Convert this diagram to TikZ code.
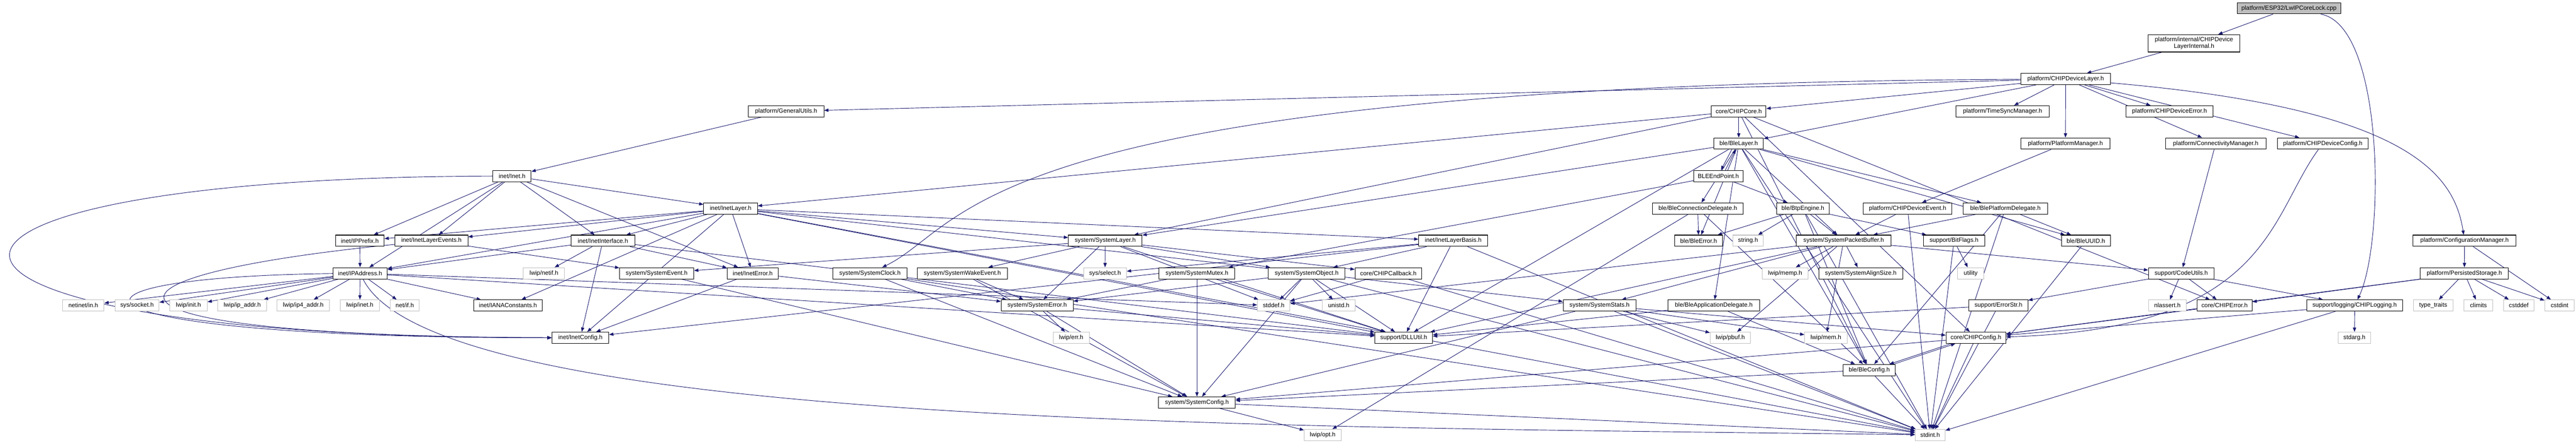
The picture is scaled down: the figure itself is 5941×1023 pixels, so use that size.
\documentclass[tikz,border=0pt]{standalone}
\usepackage{fontspec}
\setmainfont{Liberation Sans}
\usetikzlibrary{arrows.meta}
\definecolor{edgeblue}{HTML}{191970}
\definecolor{extgray}{HTML}{BFBFBF}
\pgfdeclarelayer{bg}
\pgfsetlayers{bg,main}
\begin{document}
\begin{tikzpicture}[x=1pt,y=-1pt,
  filenode/.style={draw=black, fill=white, line width=1.2pt, minimum height=26pt, inner sep=0pt, font=\fontsize{14}{16}\selectfont, text=black},
  extnode/.style={filenode, draw=extgray},
  dep/.style={draw=edgeblue, line width=1.1pt, -{Triangle[length=10pt,width=7.5pt]}}]
\useasboundingbox (0,0) rectangle (5941,1023);
% row 0-2
\node[filenode, fill=extgray, minimum width=238pt] (lwipcl) at (5279,19) {platform/ESP32/LwIPCoreLock.cpp};
\node[filenode, minimum width=212pt, minimum height=40pt, align=center] (dli) at (5060,100) {platform/internal/CHIPDevice\\LayerInternal.h};
\node[filenode, minimum width=206pt] (dl) at (4764,182.5) {platform/CHIPDeviceLayer.h};
% row 3
\node[filenode, minimum width=174pt] (gu) at (1813,257) {platform/GeneralUtils.h};
\node[filenode, minimum width=126pt] (core) at (4010,257) {core/CHIPCore.h};
\node[filenode, minimum width=215pt] (tsm) at (4618.5,257) {platform/TimeSyncManager.h};
\node[filenode, minimum width=201pt] (dde) at (5003.5,257) {platform/CHIPDeviceError.h};
% row 4
\node[filenode, minimum width=114pt] (blelayer) at (4010,331.5) {ble/BleLayer.h};
\node[filenode, minimum width=205pt] (pm) at (4763.5,331.5) {platform/PlatformManager.h};
\node[filenode, minimum width=232pt] (cm) at (5110,331.5) {platform/ConnectivityManager.h};
\node[filenode, minimum width=210pt] (dcfg) at (5357,331.5) {platform/CHIPDeviceConfig.h};
% row 5
\node[filenode, minimum width=88pt] (inet) at (1181,406.5) {inet/Inet.h};
\node[filenode, minimum width=114pt] (bep) at (3963,406.5) {BLEEndPoint.h};
% row 6
\node[filenode, minimum width=124pt] (il) at (1685,481.5) {inet/InetLayer.h};
\node[filenode, minimum width=209pt] (bcd) at (3915.5,481.5) {ble/BleConnectionDelegate.h};
\node[filenode, minimum width=122pt] (btp) at (4158,481.5) {ble/BtpEngine.h};
\node[filenode, minimum width=205pt] (dev) at (4399.5,481.5) {platform/CHIPDeviceEvent.h};
\node[filenode, minimum width=194pt] (bpd) at (4625,481.5) {ble/BlePlatformDelegate.h};
% row 7
\node[filenode, minimum width=112pt] (ipp) at (830,556) {inet/IPPrefix.h};
\node[filenode, minimum width=168pt] (ile) at (995,556) {inet/InetLayerEvents.h};
\node[filenode, minimum width=147pt] (iif) at (1390.5,556) {inet/InetInterface.h};
\node[filenode, minimum width=170pt] (sl) at (2549,556) {system/SystemLayer.h};
\node[filenode, minimum width=159pt] (ilb) at (3351.5,556) {inet/InetLayerBasis.h};
\node[filenode, minimum width=111pt] (berr) at (3917.5,556) {ble/BleError.h};
\node[extnode, minimum width=71pt] (strh) at (4031.5,556) {string.h};
\node[filenode, minimum width=218pt] (spb) at (4252,556) {system/SystemPacketBuffer.h};
\node[filenode, minimum width=141pt] (bf) at (4506.5,556) {support/BitFlags.h};
\node[filenode, minimum width=113pt] (buuid) at (4810.5,556) {ble/BleUUID.h};
\node[filenode, minimum width=238pt] (cfgm) at (5684,556) {platform/ConfigurationManager.h};
% row 8
\node[filenode, minimum width=125pt] (ipa) at (830.5,631) {inet/IPAddress.h};
\node[extnode, minimum width=95pt] (netif) at (1254.5,631) {lwip/netif.h};
\node[filenode, minimum width=171pt] (sev) at (1514.5,631) {system/SystemEvent.h};
\node[filenode, minimum width=118pt] (ierr) at (1736,631) {inet/InetError.h};
\node[filenode, minimum width=171pt] (sclk) at (2006.5,631) {system/SystemClock.h};
\node[filenode, minimum width=207pt] (swe) at (2219.5,631) {system/SystemWakeEvent.h};
\node[extnode, minimum width=99pt] (sel) at (2548.5,631) {sys/select.h};
\node[filenode, minimum width=175pt] (smx) at (2760.5,631) {system/SystemMutex.h};
\node[filenode, minimum width=177pt] (sobj) at (3013.5,631) {system/SystemObject.h};
\node[filenode, minimum width=154pt] (cb) at (3202,631) {core/CHIPCallback.h};
\node[extnode, minimum width=106pt] (memp) at (4117,631) {lwip/memp.h};
\node[filenode, minimum width=193pt] (sas) at (4291.5,631) {system/SystemAlignSize.h};
\node[extnode, minimum width=60pt] (util) at (4545,631) {utility};
\node[filenode, minimum width=151pt] (cu) at (5030.5,631) {support/CodeUtils.h};
\node[filenode, minimum width=203pt] (ps) at (5683.5,631) {platform/PersistedStorage.h};
% row 9
\node[extnode, minimum width=96pt] (nin) at (192,705.5) {netinet/in.h};
\node[extnode, minimum width=102pt] (ssock) at (316,705.5) {sys/socket.h};
\node[extnode, minimum width=87pt] (linit) at (434.5,705.5) {lwip/init.h};
\node[extnode, minimum width=113pt] (lipa) at (558.5,705.5) {lwip/ip\_addr.h};
\node[extnode, minimum width=121pt] (lip4) at (699.5,705.5) {lwip/ip4\_addr.h};
\node[extnode, minimum width=90pt] (linet) at (830,705.5) {lwip/inet.h};
\node[extnode, minimum width=67pt] (nif) at (933.5,705.5) {net/if.h};
\node[filenode, minimum width=159pt] (iana) at (1171.5,705.5) {inet/IANAConstants.h};
\node[filenode, minimum width=166pt] (serr) at (2392,705.5) {system/SystemError.h};
\node[extnode, minimum width=75pt] (stddef) at (2937.5,705.5) {stddef.h};
\node[extnode, minimum width=75pt] (unistd) at (3087.5,705.5) {unistd.h};
\node[filenode, minimum width=168pt] (sst) at (3689,705.5) {system/SystemStats.h};
\node[filenode, minimum width=211pt] (bad) at (3952.5,705.5) {ble/BleApplicationDelegate.h};
\node[filenode, minimum width=136pt] (estr) at (4609,705.5) {support/ErrorStr.h};
\node[extnode, minimum width=87pt] (nla) at (4998.5,705.5) {nlassert.h};
\node[filenode, minimum width=127pt] (cerr) at (5130.5,705.5) {core/CHIPError.h};
\node[filenode, minimum width=221pt] (clog) at (5430.5,705.5) {support/logging/CHIPLogging.h};
\node[extnode, minimum width=91pt] (tt) at (5611.5,705.5) {type\_traits};
\node[extnode, minimum width=66pt] (clim) at (5716,705.5) {climits};
\node[extnode, minimum width=70pt] (cstddef) at (5809,705.5) {cstddef};
\node[extnode, minimum width=68pt] (cstdint) at (5903,705.5) {cstdint};
% row 10
\node[filenode, minimum width=131pt] (icfg) at (1338.5,780) {inet/InetConfig.h};
\node[extnode, minimum width=83pt] (lerr) at (2470.5,780) {lwip/err.h};
\node[filenode, minimum width=133pt] (dll) at (3237.5,780) {support/DLLUtil.h};
\node[extnode, minimum width=93pt] (pbuf) at (3990.5,780) {lwip/pbuf.h};
\node[extnode, minimum width=98pt] (lmem) at (4211,780) {lwip/mem.h};
\node[filenode, minimum width=138pt] (ccfg) at (4557,780) {core/CHIPConfig.h};
\node[extnode, minimum width=74pt] (starg) at (5430,780) {stdarg.h};
% rows 11-13
\node[filenode, minimum width=120pt] (bcfg) at (4311,854.5) {ble/BleConfig.h};
\node[filenode, minimum width=177pt] (scfg) at (2760.5,929.5) {system/SystemConfig.h};
\node[extnode, minimum width=85pt] (lopt) at (3050.5,1004.5) {lwip/opt.h};
\node[extnode, minimum width=69pt] (stdint) at (4451.5,1004.5) {stdint.h};

\begin{pgfonlayer}{bg}
\fill[white] (0,0) rectangle (5941,1023);
\foreach \s/\t in {lwipcl/dli, dli/dl, dl/gu, dl/core, dl/blelayer, dl/tsm, dl/pm, dl/dde, dl/cm, dl/dcfg,
  gu/inet,
  core/il, core/sl, core/blelayer, core/ccfg, core/cerr, core/bcfg,
  blelayer/bcd, blelayer/berr, blelayer/spb, blelayer/bpd, blelayer/buuid, blelayer/sl, blelayer/bcfg, blelayer/dll, blelayer/stdint, blelayer/bad,
  bep/btp, bep/smx,
  bcd/berr, bcd/bcfg, bcd/lopt,
  btp/berr, btp/strh, btp/spb, btp/bf, btp/bcfg, btp/stdint,
  dev/spb, dev/stdint,
  bpd/spb, bpd/buuid, bpd/bcfg, bpd/stdint,
  pm/dev, cm/cu,
  cfgm/ps, cfgm/cstdint,
  ps/tt, ps/clim, ps/cstddef, ps/cstdint, ps/cerr, ps/ccfg,
  inet/il, inet/ipp, inet/ile, inet/ipa, inet/iif, inet/ierr,
  il/ipp, il/ile, il/ipa, il/iana, il/iif, il/icfg, il/ierr, il/sl, il/ilb, il/sst, il/dll, il/stdint,
  ipp/ipa, ile/sev,
  iif/ipa, iif/netif, iif/icfg, iif/ierr, iif/dll,
  sl/sev, sl/serr, sl/sel, sl/sobj, sl/cb, sl/dll, sl/swe, sl/stddef,
  sev/scfg, ierr/serr, ierr/icfg,
  sclk/serr, sclk/scfg, sclk/stdint,
  swe/serr, swe/scfg,
  serr/lerr, serr/scfg, serr/dll,
  smx/scfg, smx/serr, smx/dll,
  sobj/serr, sobj/stddef, sobj/unistd, sobj/dll, sobj/scfg, sobj/stdint,
  cb/stddef, cb/stdint,
  ilb/dll, ilb/sobj, ilb/icfg, ilb/sel, ilb/stdint,
  spb/memp, spb/sas, spb/cu, spb/pbuf, spb/lmem, spb/dll, spb/stddef, spb/sst,
  bf/util, bf/stdint, buuid/stdint,
  sst/pbuf, sst/lmem, sst/ccfg, sst/stdint, sst/scfg,
  bad/bcfg, bad/dll,
  estr/stdint, estr/dll,
  ccfg/scfg, ccfg/stdint,
  bcfg/stdint, bcfg/scfg,
  cerr/ccfg,
  clog/starg, clog/ccfg, clog/stdint,
  cu/nla, cu/cerr, cu/clog, cu/estr,
  scfg/lopt, scfg/stdint,
  ipa/nin, ipa/ssock, ipa/linit, ipa/lipa, ipa/lip4, ipa/linet, ipa/nif, ipa/iana, ipa/stddef, ipa/dll}
  {\draw[dep] (\s) -- (\t);}
% curved and paired connectors
\draw[dep] (lwipcl) .. controls (5500,60) and (5500,560) .. (clog);
\draw[dep] (dl) .. controls (2236,195) and (2236,520) .. (sclk);
\draw[dep] (dl) .. controls (5550,250) and (5660,400) .. (cfgm);
\draw[dep] (dcfg) .. controls (5233,500) and (5233,760) .. (ccfg);
\draw[dep] (inet) .. controls (-370,410) and (-370,780) .. (icfg);
\draw[dep] (ipa) .. controls (60,640) and (100,780) .. (icfg);
\draw[dep] (ile) .. controls (150,640) and (150,776) .. (icfg);
\draw[dep] (ipa) .. controls (1010,990) and (3000,985) .. (stdint);
\draw[dep] ([xshift=-16pt]blelayer.south) -- ([xshift=6pt]bep.north);
\draw[dep] ([xshift=16pt]bep.north) -- ([xshift=-7pt]blelayer.south);
\draw[dep] ([xshift=12pt]ccfg.south west) -- ([xshift=-14pt]bcfg.north east);
\draw[dep] ([xshift=-4pt]bcfg.north east) -- ([xshift=22pt]ccfg.south west);
\end{pgfonlayer}
\end{tikzpicture}
\end{document}
